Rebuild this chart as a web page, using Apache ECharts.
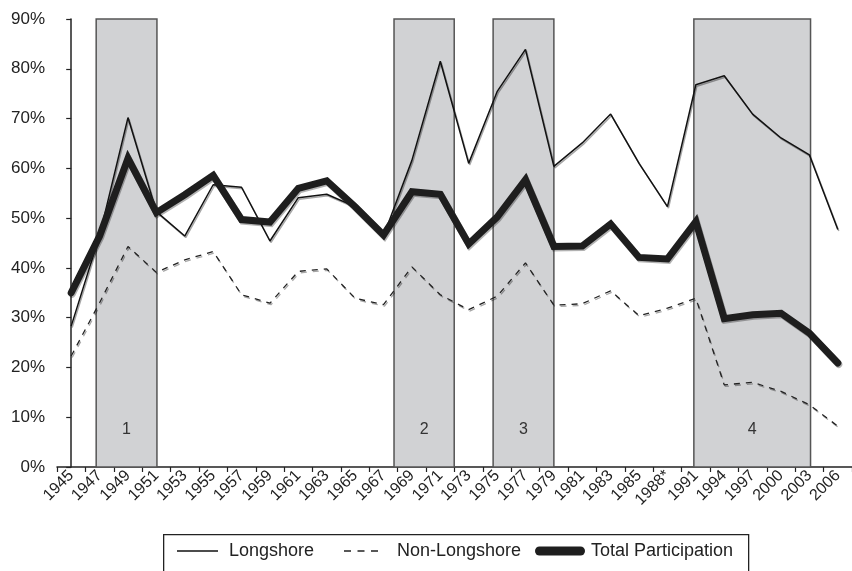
<!DOCTYPE html>
<html>
<head>
<meta charset="utf-8">
<script src="https://cdn.jsdelivr.net/npm/echarts@6/dist/echarts.min.js"></script>
<style>
html,body{margin:0;padding:0;background:#fff;}
#chart{width:852px;height:571px;}
</style>
</head>
<body>
<div id="chart"></div>
<script>
const years = ['1945','1947','1949','1951','1953','1955','1957','1959','1961','1963','1965','1967','1969','1971','1973','1975','1977','1979','1981','1983','1985','1988*','1991','1994','1997','2000','2003','2006'];
const longshore = [28.3,46.5,70.2,51.3,46.4,56.7,56.2,45.4,54.1,54.8,52.3,46.4,61.6,81.5,61.0,75.4,83.9,60.4,65.1,70.9,61.0,52.3,76.8,78.6,70.9,66.1,62.7,47.7];
const nonLongshore = [22.3,33.0,44.3,39.1,41.6,43.3,34.6,32.9,39.3,39.8,33.9,32.6,40.2,34.6,31.6,34.3,41.0,32.5,32.8,35.4,30.4,31.9,33.9,16.5,17.0,15.2,12.5,8.2];
const totalParticipation = [35.0,46.4,62.0,51.1,54.7,58.6,49.7,49.2,56.0,57.5,52.3,46.6,55.3,54.8,44.8,50.2,57.7,44.3,44.4,48.8,42.1,41.8,49.3,29.8,30.6,30.9,26.9,20.9];
// shaded periods, in category-index units (fractional)
const periods = [
  {name:'1', from:0.88, to:3.02},
  {name:'2', from:11.37, to:13.49},
  {name:'3', from:14.86, to:17.0},
  {name:'4', from:21.93, to:26.04}
];
const yTicks = {min:0, max:90, interval:10};
const seriesNames = ['Longshore','Non-Longshore','Total Participation'];

const font = '"Liberation Sans", Arial, Helvetica, sans-serif';
const legendText = {fontSize:18, color:'#222', fontFamily:font};
const chart = echarts.init(document.getElementById('chart'), null, {renderer:'canvas'});
chart.setOption({
  backgroundColor:'#fff',
  animation:false,
  textStyle:{fontFamily:font},
  grid:{left:57, top:19, right:-3, bottom:104},
  graphic:[{
    type:'rect', left:163, top:534, silent:true,
    shape:{width:585, height:45},
    style:{fill:'#fff', stroke:'#222', lineWidth:1.3}
  }],
  legend:[{
    left:177, top:542, padding:0, selectedMode:false,
    data:[{name:seriesNames[0], icon:'path://M0,0 L41,0 L41,1.5 L0,1.5 Z'}],
    itemWidth:41, itemHeight:1.5, symbolKeepAspect:false,
    itemStyle:{color:'#111'}, textStyle:{...legendText, padding:[0,0,0,6]}
  },{
    left:344, top:542, padding:0, selectedMode:false,
    data:[{name:seriesNames[1], icon:'path://M0,0 h7 v1.5 h-7 Z M13.5,0 h7 v1.5 h-7 Z M27,0 h7 v1.5 h-7 Z'}],
    itemWidth:34, itemHeight:1.5, symbolKeepAspect:false,
    itemStyle:{color:'#222'}, textStyle:{...legendText, padding:[0,0,0,14]}
  },{
    left:535, top:542, padding:0, selectedMode:false,
    data:[{name:seriesNames[2], icon:'path://M4.5,0 L45.5,0 A4.5,4.5 0 0 1 45.5,9 L4.5,9 A4.5,4.5 0 0 1 4.5,0 Z'}],
    itemWidth:50, itemHeight:9, symbolKeepAspect:false,
    itemStyle:{color:'#1e1e1e'}, textStyle:{...legendText, padding:[0,0,0,1]}
  }],
  xAxis:[{
    type:'category', data:years, boundaryGap:true,
    axisLine:{lineStyle:{color:'#222', width:1.5}},
    axisTick:{show:true, length:5, lineStyle:{color:'#222', width:1.2}},
    axisLabel:{rotate:45, interval:0, fontSize:16, color:'#222', margin:6, fontFamily:font},
    splitLine:{show:false}
  },{
    type:'value', min:-0.5, max:27.5, show:false
  }],
  yAxis:{
    type:'value', min:yTicks.min, max:yTicks.max, interval:yTicks.interval,
    axisLine:{show:true, lineStyle:{color:'#222', width:1.5}},
    axisTick:{show:true, length:5, lineStyle:{color:'#222', width:1.2}},
    axisLabel:{formatter:'{value}%', fontSize:17, color:'#222', margin:12, fontFamily:font},
    splitLine:{show:false}
  },
  series:[
    {
      type:'line', xAxisIndex:1, data:[], silent:true, z:1,
      markArea:{
        silent:true,
        itemStyle:{color:'#d1d2d4', borderColor:'#555', borderWidth:1.5},
        label:{show:true, position:'insideBottom', distance:30, fontSize:16, color:'#333', fontFamily:font},
        data: periods.map(p => [{name:p.name, xAxis:p.from}, {xAxis:p.to}])
      }
    },
    {
      name:seriesNames[0], type:'line', data:longshore, symbol:'none', z:3,
      lineStyle:{color:'#111', width:1.5, shadowColor:'rgba(0,0,0,0.35)', shadowOffsetX:1, shadowOffsetY:1.5},
      itemStyle:{color:'#111'}
    },
    {
      name:seriesNames[1], type:'line', data:nonLongshore, symbol:'none', z:3,
      lineStyle:{color:'#222', width:1.3, type:[6,6], shadowColor:'rgba(0,0,0,0.35)', shadowOffsetX:1, shadowOffsetY:1.5},
      itemStyle:{color:'#222'}
    },
    {
      name:seriesNames[2], type:'line', data:totalParticipation, symbol:'none', z:4,
      lineStyle:{color:'#1e1e1e', width:7, cap:'round', join:'miter', shadowColor:'rgba(0,0,0,0.3)', shadowOffsetX:1, shadowOffsetY:1.5},
      itemStyle:{color:'#1e1e1e'}
    }
  ]
});
</script>
</body>
</html>
